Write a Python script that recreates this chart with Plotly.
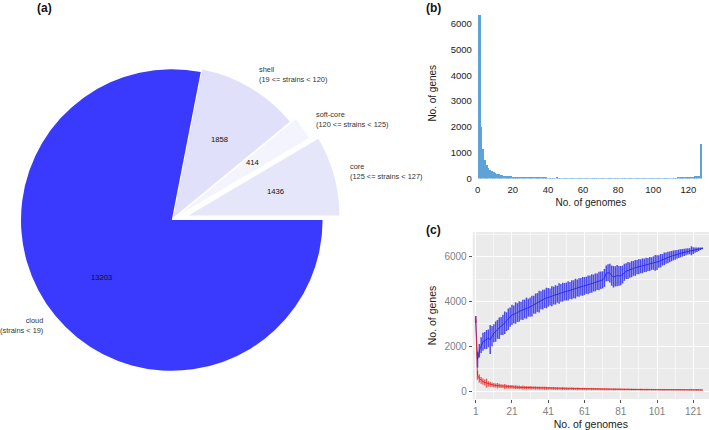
import numpy as np
import plotly.graph_objects as go

W, H = 709, 430
FONT = "Liberation Sans"

# ---------------- (a) pie data ----------------
pie_categories = ["cloud", "shell", "soft-core", "core"]
pie_ranges = ["(strains < 19)", "(19 <= strains < 120)", "(120 <= strains < 125)", "(125 <= strains < 127)"]
pie_values = [13203, 1858, 414, 1436]
pie_colors = ["#3a3afe", "#e0e0fb", "#f4f4fe", "#e6e6fb"]
pie_pull = [0.0, 0.02, 0.06, 0.115]

# ---------------- (b) histogram data ----------------
hist_genomes = list(range(1, 128))
hist_counts = [
    6350, 2010, 1130, 730, 510, 400, 335, 285, 240, 205,
    180, 160, 140, 125, 115, 105, 95, 88, 78, 70,
    64, 58, 53, 48, 44, 41, 38, 35, 33, 31,
    29, 28, 26, 25, 24, 23, 22, 21, 20, 19,
    19, 18, 18, 17, 20, 16, 16, 15, 15, 14,
    14, 13, 13, 12, 13, 12, 12, 11, 12, 11,
    11, 12, 10, 11, 10, 11, 10, 10, 11, 10,
    10, 11, 10, 9, 10, 10, 9, 10, 9, 10,
    9, 10, 9, 9, 10, 9, 9, 10, 9, 10,
    10, 9, 10, 10, 11, 10, 11, 11, 12, 12,
    13, 12, 13, 14, 14, 15, 15, 16, 17, 18,
    17, 18, 19, 20, 21, 22, 23, 22, 24, 35,
    40, 50, 60, 110, 105, 100, 1320,
]

# ---------------- (c) accumulation data ----------------
acc_genomes = list(range(1, 127))
blue_med = [
    3200, 1400, 1800, 2050, 2200, 2250, 2300, 2350, 2300, 2450,
    2580, 2650, 2750, 2800, 2900, 2950, 3050, 3100, 3200, 3300,
    3400, 3420, 3480, 3500, 3550, 3580, 3620, 3660, 3700, 3720,
    3740, 3790, 3850, 3900, 3950, 3990, 4050, 4080, 4120, 4150,
    4180, 4200, 4230, 4260, 4290, 4320, 4350, 4380, 4410, 4430,
    4440, 4470, 4490, 4520, 4540, 4570, 4600, 4620, 4650, 4670,
    4690, 4720, 4740, 4770, 4800, 4820, 4850, 4880, 4910, 4940,
    4960, 5050, 5250, 5280, 5260, 5150, 5100, 5120, 5150, 5140,
    5150, 5200, 5300, 5350, 5380, 5400, 5440, 5470, 5500, 5530,
    5550, 5570, 5590, 5610, 5630, 5650, 5670, 5690, 5710, 5720,
    5730, 5780, 5820, 5860, 5900, 5930, 5960, 5990, 6020, 6050,
    6070, 6100, 6130, 6150, 6170, 6190, 6210, 6230, 6240, 6260,
    6270, 6290, 6310, 6330, 6350, 6370,
]
blue_err = [
    150, 350, 300, 350, 400, 380, 420, 400, 650, 450,
    400, 450, 420, 480, 400, 450, 500, 420, 480, 430,
    450, 400, 480, 420, 460, 400, 450, 420, 470, 400,
    430, 460, 400, 450, 420, 480, 400, 440, 410, 460,
    420, 380, 450, 400, 430, 380, 460, 400, 420, 390,
    400, 430, 380, 420, 400, 440, 380, 410, 390, 420,
    400, 380, 420, 390, 410, 380, 400, 370, 410, 390,
    380, 400, 350, 380, 420, 450, 480, 450, 470, 440,
    430, 400, 380, 350, 380, 340, 360, 330, 350, 320,
    340, 310, 330, 300, 320, 290, 310, 280, 300, 350,
    330, 280, 300, 260, 280, 250, 260, 240, 230, 220,
    210, 200, 190, 180, 170, 160, 150, 140, 130, 200,
    150, 120, 100, 80, 60, 40,
]
red_med = [
    3200, 700, 560, 470, 420, 380, 350, 320, 300, 280,
    260, 250, 240, 230, 220, 210, 200, 195, 190, 185,
    180, 175, 170, 165, 160, 158, 155, 150, 148, 145,
    142, 140, 138, 135, 132, 130, 128, 126, 124, 122,
    120, 118, 116, 114, 112, 110, 108, 106, 104, 102,
    100, 99, 98, 96, 95, 94, 92, 91, 90, 89,
    88, 87, 86, 85, 84, 83, 82, 81, 80, 79,
    78, 77, 76, 75, 75, 74, 73, 72, 72, 71,
    70, 70, 69, 68, 68, 67, 66, 66, 65, 65,
    64, 64, 63, 62, 62, 61, 61, 60, 60, 59,
    59, 58, 58, 57, 57, 56, 56, 55, 55, 55,
    54, 54, 53, 53, 53, 52, 52, 52, 51, 51,
    51, 50, 50, 50, 49, 49,
]
red_err = [
    150, 200, 180, 150, 140, 130, 200, 120, 110, 100,
    100, 90, 120, 90, 85, 80, 110, 80, 75, 80,
    85, 70, 90, 75, 80, 70, 85, 70, 75, 65,
    80, 70, 65, 75, 60, 70, 65, 60, 70, 65,
    60, 55, 65, 60, 55, 60, 50, 55, 60, 50,
    55, 50, 45, 55, 50, 45, 55, 50, 45, 50,
    45, 50, 45, 40, 50, 45, 40, 45, 40, 45,
    40, 45, 40, 45, 40, 35, 45, 40, 35, 40,
    40, 35, 40, 35, 40, 35, 40, 35, 40, 35,
    35, 40, 35, 30, 35, 40, 30, 35, 30, 35,
    30, 35, 30, 35, 30, 30, 35, 30, 30, 35,
    30, 30, 35, 30, 30, 35, 30, 30, 30, 35,
    30, 30, 35, 30, 30, 30,
]

fig = go.Figure()

# ---------------- (a) pie ----------------
pie_cx, pie_cy, pie_r = 171.8, 220.0, 150.8
max_pull = max(pie_pull)
half = pie_r * (1 + max_pull)
fig.add_trace(go.Pie(
    labels=pie_categories, values=pie_values, sort=False, direction="clockwise",
    rotation=90, pull=pie_pull, textinfo="none", hoverinfo="label+value",
    marker=dict(colors=pie_colors, line=dict(width=0)),
    domain=dict(x=[(pie_cx - half) / W, (pie_cx + half) / W],
                y=[1 - (pie_cy + half) / H, 1 - (pie_cy - half) / H]),
    showlegend=False,
))

vals = np.array(pie_values, dtype=float)
frac = vals / vals.sum()
start = np.concatenate([[0], np.cumsum(frac)[:-1]])
mid_deg = 90 + 360 * (start + frac / 2)  # clockwise from 12 o'clock
annotations = []
for i, cat in enumerate(pie_categories):
    th = np.deg2rad(mid_deg[i])
    dx, dy = np.sin(th), -np.cos(th)
    p = pie_pull[i]
    lx = pie_cx + pie_r * (1.1 + p) * dx
    ly = pie_cy + pie_r * (1.1 + p) * dy
    annotations.append(dict(
        x=lx / W, y=1 - ly / H, xref="paper", yref="paper",
        text=f"{cat}<br>{pie_ranges[i]}", showarrow=False, borderpad=0,
        xanchor="left" if dx > 0 else "right", yanchor="middle",
        align="left" if dx > 0 else "right",
        font=dict(size=7.4, color="#333333", family=FONT)))
    vx = pie_cx + pie_r * (0.6 + p) * dx
    vy = pie_cy + pie_r * (0.6 + p) * dy
    annotations.append(dict(
        x=vx / W, y=1 - vy / H, xref="paper", yref="paper",
        text=str(pie_values[i]), showarrow=False, xanchor="center", yanchor="middle",
        font=dict(size=7.7, color="#111111", family=FONT)))

# ---------------- (b) histogram ----------------
fig.add_trace(go.Bar(
    x=hist_genomes, y=hist_counts, width=1.0, marker=dict(color="#5fa2d6", line=dict(width=0)),
    xaxis="x", yaxis="y", showlegend=False, hovertemplate="%{x}: %{y}<extra></extra>"))

# ---------------- (c) accumulation ----------------
fig.add_trace(go.Scatter(
    x=acc_genomes, y=blue_med, mode="lines", xaxis="x2", yaxis="y2",
    line=dict(color="rgba(30,30,235,0.9)", width=0.9),
    error_y=dict(type="data", array=blue_err, visible=True,
                 color="rgba(35,35,235,0.8)", thickness=1.5, width=0),
    showlegend=False))
fig.add_trace(go.Scatter(
    x=acc_genomes, y=red_med, mode="lines", xaxis="x2", yaxis="y2",
    line=dict(color="rgba(230,25,25,0.9)", width=0.9),
    error_y=dict(type="data", array=red_err, visible=True,
                 color="rgba(235,30,30,0.7)", thickness=1.4, width=0),
    showlegend=False))

for txt, px, py in [("(a)", 44, 8), ("(b)", 433, 8), ("(c)", 433, 230)]:
    annotations.append(dict(x=px / W, y=1 - py / H, xref="paper", yref="paper",
                            text=f"<b>{txt}</b>", showarrow=False,
                            xanchor="center", yanchor="middle",
                            font=dict(size=12, color="#111111", family=FONT)))

hx0, hx1 = 477.7, 704.0
hy0, hy1 = 178.5, 8.0
cx0, cx1 = 472.7, 709.0
cy0, cy1 = 399.0, 232.0
clear = "rgba(0,0,0,0)"

fig.update_layout(
    width=W, height=H, margin=dict(l=0, r=0, t=0, b=0, autoexpand=False),
    paper_bgcolor="white", plot_bgcolor="white",
    font=dict(family=FONT, size=10, color="#222222"),
    annotations=annotations,
    bargap=0,
    xaxis=dict(domain=[hx0 / W, hx1 / W], anchor="y", range=[0, 128.9], automargin=False,
               tickvals=[0, 20, 40, 60, 80, 100, 120], showgrid=False, zeroline=False,
               showline=False, ticks="outside", ticklen=2, tickcolor=clear,
               tickfont=dict(size=9.5, color="#222222"),
               title=dict(text="No. of genomes", font=dict(size=10), standoff=5)),
    yaxis=dict(domain=[1 - hy0 / H, 1 - hy1 / H], anchor="x", automargin=False,
               range=[0, (hy0 - hy1) / ((hy0 - 23.7) / 6000)],
               tickvals=[0, 1000, 2000, 3000, 4000, 5000, 6000], showgrid=False,
               zeroline=False, showline=False, ticks="outside", ticklen=3, tickcolor=clear,
               tickfont=dict(size=9.5, color="#222222"),
               title=dict(text="No. of genes", font=dict(size=10), standoff=12)),
    xaxis2=dict(domain=[cx0 / W, cx1 / W], anchor="y2", automargin=False,
                range=[1 - (475.7 - cx0) / 1.813, 1 + (cx1 - 475.7) / 1.813],
                tickvals=[1, 21, 41, 61, 81, 101, 121], showgrid=True,
                gridcolor="white", gridwidth=1, zeroline=False, showline=False,
                ticks="outside", ticklen=3, tickcolor="#555555",
                tickfont=dict(size=10, color="#7f7f7f"),
                minor=dict(tickvals=[11, 31, 51, 71, 91, 111], showgrid=True,
                           gridcolor="rgba(255,255,255,0.55)", gridwidth=0.6, ticks=""),
                title=dict(text="No. of genomes", font=dict(size=10.5), standoff=5)),
    yaxis2=dict(domain=[1 - cy0 / H, 1 - cy1 / H], anchor="x2", automargin=False,
                range=[-(cy0 - 391) * 2000 / 44.8, (391 - cy1) * 2000 / 44.8],
                tickvals=[0, 2000, 4000, 6000], showgrid=True,
                gridcolor="white", gridwidth=1, zeroline=False, showline=False,
                ticks="outside", ticklen=3, tickcolor="#555555",
                tickfont=dict(size=10, color="#7f7f7f"),
                minor=dict(tickvals=[1000, 3000, 5000, 7000], showgrid=True,
                           gridcolor="rgba(255,255,255,0.55)", gridwidth=0.6, ticks=""),
                title=dict(text="No. of genes", font=dict(size=10.5), standoff=5)),
)
fig.update_layout(shapes=[dict(type="rect", xref="x2 domain", yref="y2 domain",
                               x0=0, x1=1, y0=0, y1=1, fillcolor="#ebebeb",
                               line=dict(width=0), layer="below")])

fig.write_html("out.html", config={"displayModeBar": False},
               post_script="document.body.style.margin='0px';document.body.style.padding='0px';")
